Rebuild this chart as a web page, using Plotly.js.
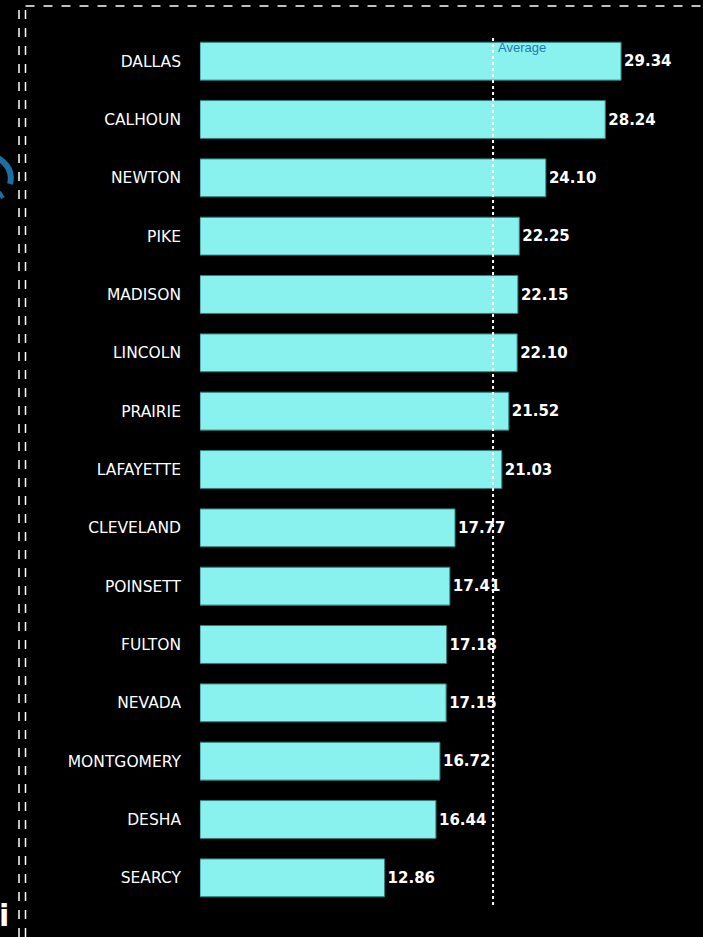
<!DOCTYPE html>
<html>
<head>
<meta charset="utf-8">
<script src="https://cdn.plot.ly/plotly-3.0.1.min.js"></script>
<style>
html,body{margin:0;padding:0;background:#000;}
#chart{width:703px;height:937px;}
</style>
</head>
<body>
<div id="chart"></div>
<script>
const counties = ["DALLAS","CALHOUN","NEWTON","PIKE","MADISON","LINCOLN","PRAIRIE","LAFAYETTE","CLEVELAND","POINSETT","FULTON","NEVADA","MONTGOMERY","DESHA","SEARCY"];
const values = [29.34,28.24,24.10,22.25,22.15,22.10,21.52,21.03,17.77,17.41,17.18,17.15,16.72,16.44,12.86];
const averageValue = 20.42;
const averageLabel = "Average";

const W = 703, H = 937;
const mL = 200, mR = 3, mT = 32, mB = 30;
const plotW = W - mL - mR;
function px(x){ return (x - mL) / plotW; }
function py(y){ return 1 - (y - mT) / (H - mT - mB); }

const trace = {
  type: 'bar',
  orientation: 'h',
  x: values,
  y: counties,
  width: 0.65,
  marker: {color: '#89F1EE', line: {color: '#2f7f7c', width: 1}},
  text: values.map(v => v.toFixed(2)),
  textposition: 'outside',
  cliponaxis: false,
  textfont: {color: '#ffffff', size: 15, family: 'DejaVu Sans, sans-serif', weight: 'bold'},
  hoverinfo: 'none'
};

const layout = {
  width: W, height: H,
  margin: {l: mL, r: mR, t: mT, b: mB},
  paper_bgcolor: '#000000',
  plot_bgcolor: '#000000',
  showlegend: false,
  xaxis: {range: [0, 34.84], showgrid: false, zeroline: false, showticklabels: false, showline: false, fixedrange: true},
  yaxis: {
    type: 'category', autorange: 'reversed', showgrid: false, zeroline: false, showline: false,
    tickfont: {color: '#ffffff', size: 15.5, family: 'DejaVu Sans, sans-serif'},
    ticks: '', ticklabelstandoff: 18
  },
  shapes: [
    {type: 'line', xref: 'x', yref: 'paper', x0: averageValue, x1: averageValue, y0: py(905), y1: py(37),
     line: {color: '#ffffff', width: 2, dash: 'dot'}, layer: 'above'},
    {type: 'line', xref: 'paper', yref: 'paper', x0: px(19), x1: px(19), y0: py(937), y1: py(5),
     line: {color: '#ffffff', width: 1.5, dash: 'dash'}},
    {type: 'line', xref: 'paper', yref: 'paper', x0: px(25.5), x1: px(25.5), y0: py(937), y1: py(6),
     line: {color: '#ffffff', width: 1.5, dash: 'dash'}},
    {type: 'line', xref: 'paper', yref: 'paper', x0: px(25.5), x1: px(703), y0: py(6), y1: py(6),
     line: {color: '#ffffff', width: 1.5, dash: 'dash'}},
    {type: 'path', xref: 'paper', yref: 'paper',
     path: 'M ' + px(-2) + ' ' + py(158) + ' Q ' + px(14) + ' ' + py(168) + ' ' + px(10) + ' ' + py(184),
     line: {color: '#1b6fa3', width: 6}},
    {type: 'path', xref: 'paper', yref: 'paper',
     path: 'M ' + px(-1) + ' ' + py(192) + ' L ' + px(3) + ' ' + py(198),
     line: {color: '#1b6fa3', width: 4}}
  ],
  annotations: [
    {text: averageLabel, xref: 'x', yref: 'paper', x: averageValue, y: py(48), xanchor: 'left', yanchor: 'middle', xshift: 3,
     showarrow: false, font: {color: '#1f78b0', size: 13, family: 'Liberation Sans, sans-serif'}},
    {text: '<b>i</b>', xref: 'paper', yref: 'paper', x: px(0), y: py(915), xanchor: 'left', yanchor: 'middle', xshift: -3,
     showarrow: false, font: {color: '#ffffff', size: 30, family: 'DejaVu Sans, sans-serif'}}
  ]
};

Plotly.newPlot('chart', [trace], layout, {displayModeBar: false, staticPlot: true});
</script>
</body>
</html>
